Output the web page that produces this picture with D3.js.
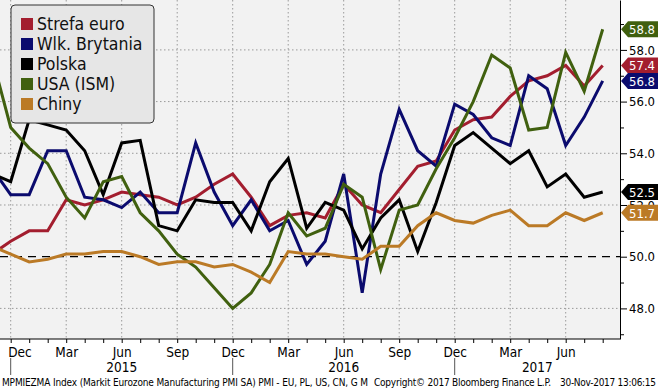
<!DOCTYPE html>
<html>
<head>
<meta charset="utf-8">
<script src="https://cdn.jsdelivr.net/npm/d3@7"></script>
<style>
  body { margin: 0; background: #fff; }
  svg { display: block; }
  text { font-family: 'DejaVu Sans Condensed', 'Liberation Sans Narrow', sans-serif; }
</style>
</head>
<body>
<svg width="658" height="389"></svg>
<script>
// monthly PMI readings, Nov 2014 - Aug 2017
var months = [
  '2014-11', '2014-12',
  '2015-01', '2015-02', '2015-03', '2015-04', '2015-05', '2015-06',
  '2015-07', '2015-08', '2015-09', '2015-10', '2015-11', '2015-12',
  '2016-01', '2016-02', '2016-03', '2016-04', '2016-05', '2016-06',
  '2016-07', '2016-08', '2016-09', '2016-10', '2016-11', '2016-12',
  '2017-01', '2017-02', '2017-03', '2017-04', '2017-05', '2017-06',
  '2017-07', '2017-08'
]
var strefaEuro = [50.1, 50.6,
  51.0, 51.0, 52.2, 52.0, 52.2, 52.5, 52.4, 52.3, 52.0, 52.3, 52.8, 53.2,
  52.3, 51.2, 51.6, 51.7, 51.5, 52.8, 52.0, 51.7, 52.6, 53.5, 53.7, 54.9,
  55.3, 55.4, 56.2, 56.8, 57.0, 57.4, 56.6, 57.4]
var wlkBrytania = [53.4, 52.4,
  52.4, 54.1, 54.1, 52.3, 52.2, 51.9, 52.5, 51.7, 51.7, 54.4, 52.5, 51.2,
  52.2, 51.0, 51.4, 49.7, 50.6, 53.2, 48.6, 53.2, 55.7, 54.1, 53.5, 55.9,
  55.5, 54.6, 54.3, 57.0, 56.5, 54.3, 55.4, 56.8]
var polska = [53.2, 52.9,
  55.3, 55.1, 54.9, 54.1, 52.4, 54.4, 54.5, 51.2, 51.0, 52.2, 52.1, 52.1,
  51.0, 52.9, 53.8, 51.1, 52.1, 51.8, 50.3, 51.5, 52.2, 50.2, 52.1, 54.3,
  54.8, 54.2, 53.6, 54.1, 52.7, 53.2, 52.3, 52.5]
var usaIsm = [57.7, 55.0,
  54.2, 53.6, 52.3, 51.5, 52.9, 53.1, 51.7, 51.0, 50.1, 49.6, 48.8, 48.0,
  48.6, 49.7, 51.7, 50.8, 51.1, 52.8, 52.3, 49.5, 51.8, 52.0, 53.4, 54.6,
  56.0, 57.8, 57.3, 54.9, 55.0, 57.9, 56.4, 58.8]
var chiny = [50.4, 50.1,
  49.8, 49.9, 50.1, 50.1, 50.2, 50.2, 50.0, 49.7, 49.8, 49.8, 49.6, 49.7,
  49.4, 49.0, 50.2, 50.1, 50.1, 50.0, 49.9, 50.4, 50.4, 51.2, 51.7, 51.4,
  51.3, 51.6, 51.8, 51.2, 51.2, 51.7, 51.4, 51.7]

var seriesNames = ['Strefa euro', 'Wlk. Brytania', 'Polska', 'USA (ISM)', 'Chiny']
var seriesValues = [strefaEuro, wlkBrytania, polska, usaIsm, chiny]
var colors = ['#a31e2f', '#0b0b6e', '#000000', '#40600f', '#bb7a26']

var yTicks = [48, 50, 52, 54, 56, 58]
var yMinorTicks = [47, 49, 51, 53, 55, 57, 59]
var monthNames = { '03': 'Mar', '06': 'Jun', '09': 'Sep', '12': 'Dec' }
var years = ['2015', '2016', '2017']
var footerLeft = 'MPMIEZMA Index (Markit Eurozone Manufacturing PMI SA) PMI - EU, PL, US, CN, G  M'
var footerMid = 'Copyright\u00a9 2017 Bloomberg Finance L.P.'
var footerRight = '30-Nov-2017 13:06:15'

var W = 620, H = 339
var svg = d3.select('svg')

var x = d3.scalePoint().domain(months).range([-7.8, 602.7])
var y = d3.scaleLinear().domain([46.816, 59.93]).range([H, 0])

svg.append('rect').attr('width', W).attr('height', H).attr('fill', '#f2f2f2')

svg.append('clipPath').attr('id', 'plot')
  .append('rect').attr('width', W).attr('height', H)

// grid
var quarters = months.filter(m => monthNames[m.slice(5)])
svg.append('g')
  .selectAll('line')
  .data(yTicks.filter(d => d !== 50))
  .enter()
  .append('line')
  .attr('x1', 0).attr('x2', W)
  .attr('y1', d => y(d)).attr('y2', d => y(d))
  .attr('stroke', '#9a9a9a').attr('stroke-dasharray', '1.5,2.5')
svg.append('g')
  .selectAll('line')
  .data(quarters)
  .enter()
  .append('line')
  .attr('x1', d => x(d)).attr('x2', d => x(d))
  .attr('y1', 0).attr('y2', H)
  .attr('stroke', '#9a9a9a').attr('stroke-dasharray', '1.5,2.5')
svg.append('line')
  .attr('x1', 0).attr('x2', W)
  .attr('y1', y(50)).attr('y2', y(50))
  .attr('stroke', '#000').attr('stroke-width', 1.3).attr('stroke-dasharray', '8,6')

// the lines
var line = d3.line()
  .x((d, i) => x(months[i]))
  .y(d => y(d))
svg.append('g')
  .attr('clip-path', 'url(#plot)')
  .selectAll('path')
  .data(seriesValues)
  .enter()
  .append('path')
  .attr('d', line)
  .attr('fill', 'none')
  .attr('stroke', (d, i) => colors[i])
  .attr('stroke-width', 3)
  .attr('stroke-linejoin', 'miter')

// bottom axis
var xAxis = svg.append('g')
  .attr('transform', 'translate(0,' + H + ')')
  .call(d3.axisBottom(x)
    .tickValues(months.slice(1))
    .tickSize(4)
    .tickSizeOuter(0)
    .tickPadding(4)
    .tickFormat(m => monthNames[m.slice(5)] || ''))
xAxis.select('.domain').attr('d', 'M0,0H' + W).attr('stroke', '#000')
xAxis.selectAll('text').attr('font-size', 13.5).attr('fill', '#000').attr('font-family', null)
xAxis.select('.tick text').attr('text-anchor', 'start').attr('dx', -3)

var decs = months.filter(m => m.slice(5) === '12' && m > '2014')
svg.append('g')
  .selectAll('line')
  .data(decs)
  .enter()
  .append('line')
  .attr('x1', d => x(d)).attr('x2', d => x(d))
  .attr('y1', 358).attr('y2', 375)
  .attr('stroke', '#555')
var yearEdges = decs.map(d => x(d)).concat([W])
svg.append('g')
  .selectAll('text')
  .data(years)
  .enter()
  .append('text')
  .attr('x', (d, i) => (yearEdges[i] + yearEdges[i + 1]) / 2)
  .attr('y', 372)
  .attr('text-anchor', 'middle')
  .attr('font-size', 13.5)
  .text(d => d)

// right axis
var yAxis = svg.append('g')
  .attr('transform', 'translate(' + W + ',0)')
  .call(d3.axisRight(y)
    .tickValues(yTicks)
    .tickSize(7)
    .tickSizeOuter(0)
    .tickPadding(2)
    .tickFormat(d3.format('.1f')))
yAxis.select('.domain').attr('stroke', '#000')
yAxis.selectAll('text').attr('font-size', 13).attr('fill', '#000').attr('font-family', null)
svg.append('g')
  .attr('transform', 'translate(' + W + ',0)')
  .call(d3.axisRight(y).tickValues(yMinorTicks).tickSize(4).tickFormat(''))
  .select('.domain').remove()

// last value flags
var flags = svg.append('g')
  .selectAll('g')
  .data(seriesValues)
  .enter()
  .append('g')
  .attr('transform', d => 'translate(' + (W + 1) + ',' + y(d[d.length - 1]) + ')')
flags.append('path')
  .attr('d', 'M0,0L7,-8H40V8H7Z')
  .attr('fill', (d, i) => colors[i])
flags.append('text')
  .attr('x', 8)
  .attr('y', 5)
  .attr('font-size', 13)
  .attr('fill', '#fff')
  .text(d => d3.format('.1f')(d[d.length - 1]))

// legend
var legend = svg.append('g').attr('transform', 'translate(11,5)')
legend.append('rect')
  .attr('width', 143).attr('height', 118).attr('rx', 4)
  .attr('fill', '#e6e6e6').attr('stroke', '#333')
var items = legend.selectAll('g.item')
  .data(seriesNames)
  .enter()
  .append('g')
  .attr('transform', (d, i) => 'translate(10,' + (19 + i * 20) + ')')
items.append('rect')
  .attr('y', -6).attr('width', 12).attr('height', 12)
  .attr('fill', (d, i) => colors[i])
items.append('text')
  .attr('x', 16).attr('y', 6)
  .attr('font-size', 17.5)
  .attr('fill', '#111')
  .text(d => d)

// source line
var foot = svg.append('g').attr('font-size', 10).attr('fill', '#000').style('white-space', 'pre')
foot.append('text').attr('x', 2).attr('y', 386).attr('textLength', 366).text(footerLeft)
foot.append('text').attr('x', 374).attr('y', 386).attr('textLength', 177).text(footerMid)
foot.append('text').attr('x', 560).attr('y', 386).attr('textLength', 96).text(footerRight)
</script>
</body>
</html>
